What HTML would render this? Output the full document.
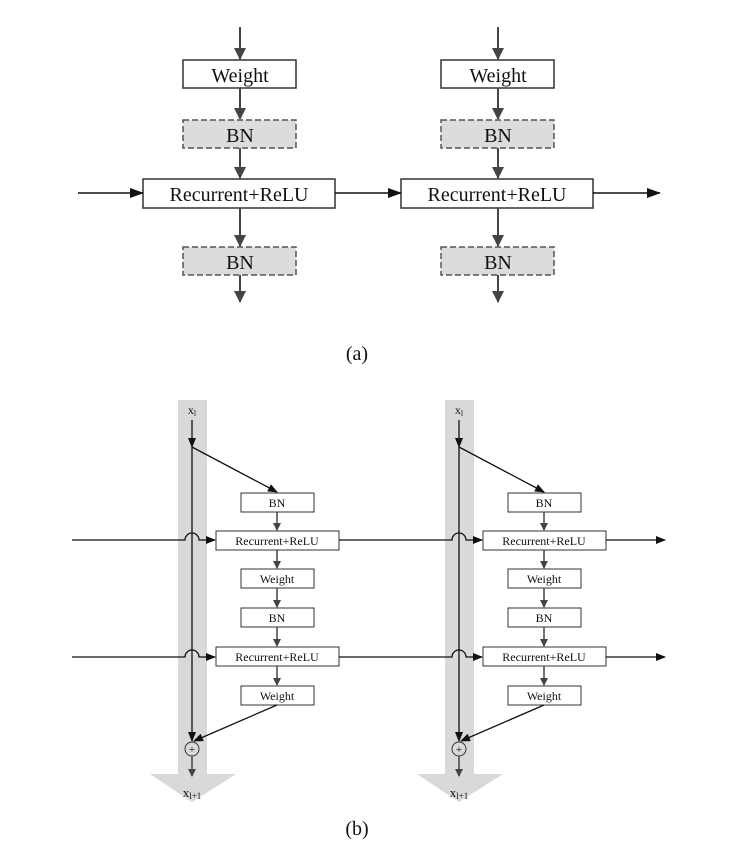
<!DOCTYPE html>
<html><head><meta charset="utf-8"><style>body{margin:0;background:#fff}svg{display:block}text{font-family:"Liberation Serif",serif;fill:#111}</style></head>
<body>
<svg width="755" height="862" viewBox="0 0 755 862" xmlns="http://www.w3.org/2000/svg">
<defs>
<marker id="ga" markerWidth="12" markerHeight="12" refX="11" refY="6" orient="auto" markerUnits="userSpaceOnUse"><path d="M0,0 L12,6 L0,12 z" fill="#444"/></marker>
<marker id="ka" markerWidth="14" markerHeight="10" refX="13" refY="5" orient="auto" markerUnits="userSpaceOnUse"><path d="M0,0 L14,5 L0,10 z" fill="#111"/></marker>
<marker id="sa" markerWidth="10" markerHeight="8" refX="9" refY="4" orient="auto" markerUnits="userSpaceOnUse"><path d="M0,0 L10,4 L0,8 z" fill="#111"/></marker>
<marker id="sg" markerWidth="8" markerHeight="8" refX="7" refY="4" orient="auto" markerUnits="userSpaceOnUse"><path d="M0,0 L8,4 L0,8 z" fill="#444"/></marker>
</defs>
<!-- (a) -->
<g id="acol">
<line x1="240" y1="27" x2="240" y2="59" stroke="#444" stroke-width="2" marker-end="url(#ga)"/>
<rect x="183" y="60" width="113" height="28" fill="#fff" stroke="#333" stroke-width="1.5"/>
<text x="240" y="82" font-size="20" text-anchor="middle">Weight</text>
<line x1="240" y1="88" x2="240" y2="119" stroke="#444" stroke-width="2" marker-end="url(#ga)"/>
<rect x="183" y="120" width="113" height="28" fill="#dcdcdc" stroke="#555" stroke-width="1.5" stroke-dasharray="6,3"/>
<text x="240" y="142" font-size="20" text-anchor="middle">BN</text>
<line x1="240" y1="148" x2="240" y2="178" stroke="#444" stroke-width="2" marker-end="url(#ga)"/>
<rect x="143" y="179" width="192" height="29" fill="#fff" stroke="#333" stroke-width="1.5"/>
<text x="239" y="201" font-size="20" text-anchor="middle">Recurrent+ReLU</text>
<line x1="240" y1="208" x2="240" y2="246" stroke="#444" stroke-width="2" marker-end="url(#ga)"/>
<rect x="183" y="247" width="113" height="28" fill="#dcdcdc" stroke="#555" stroke-width="1.5" stroke-dasharray="6,3"/>
<text x="240" y="269" font-size="20" text-anchor="middle">BN</text>
<line x1="240" y1="275" x2="240" y2="302" stroke="#444" stroke-width="2" marker-end="url(#ga)"/>
</g>
<use href="#acol" transform="translate(258,0)"/>
<line x1="78" y1="193" x2="143" y2="193" stroke="#111" stroke-width="1.5" marker-end="url(#ka)"/>
<line x1="335" y1="193" x2="401" y2="193" stroke="#111" stroke-width="1.5" marker-end="url(#ka)"/>
<line x1="593" y1="193" x2="660" y2="193" stroke="#111" stroke-width="1.5" marker-end="url(#ka)"/>
<text x="357" y="360" font-size="20" text-anchor="middle">(a)</text>
<!-- (b) -->
<g id="bcol">
<path d="M178,400 H207 V774 H236 L192,802 L150,774 H178 Z" fill="#d9d9d9"/>
<text x="192" y="414" font-size="12" text-anchor="middle">x<tspan font-size="8" dy="2">l</tspan></text>
<line x1="192" y1="420" x2="192" y2="447" stroke="#111" stroke-width="1.3" marker-end="url(#sa)"/>
<line x1="192" y1="447" x2="192" y2="741" stroke="#111" stroke-width="1.3" marker-end="url(#sa)"/>
<line x1="192" y1="447" x2="277" y2="492" stroke="#111" stroke-width="1.3" marker-end="url(#sa)"/>
<rect x="241" y="493" width="73" height="19" fill="#fff" stroke="#333"/>
<text x="277" y="507" font-size="12" text-anchor="middle">BN</text>
<line x1="277" y1="512" x2="277" y2="530" stroke="#444" stroke-width="1.5" marker-end="url(#sg)"/>
<rect x="216" y="531" width="123" height="19" fill="#fff" stroke="#333"/>
<text x="277" y="545" font-size="12" text-anchor="middle">Recurrent+ReLU</text>
<line x1="277" y1="550" x2="277" y2="568" stroke="#444" stroke-width="1.5" marker-end="url(#sg)"/>
<rect x="241" y="569" width="73" height="19" fill="#fff" stroke="#333"/>
<text x="277" y="583" font-size="12" text-anchor="middle">Weight</text>
<line x1="277" y1="588" x2="277" y2="607" stroke="#444" stroke-width="1.5" marker-end="url(#sg)"/>
<rect x="241" y="608" width="73" height="19" fill="#fff" stroke="#333"/>
<text x="277" y="622" font-size="12" text-anchor="middle">BN</text>
<line x1="277" y1="627" x2="277" y2="646" stroke="#444" stroke-width="1.5" marker-end="url(#sg)"/>
<rect x="216" y="647" width="123" height="19" fill="#fff" stroke="#333"/>
<text x="277" y="661" font-size="12" text-anchor="middle">Recurrent+ReLU</text>
<line x1="277" y1="666" x2="277" y2="685" stroke="#444" stroke-width="1.5" marker-end="url(#sg)"/>
<rect x="241" y="686" width="73" height="19" fill="#fff" stroke="#333"/>
<text x="277" y="700" font-size="12" text-anchor="middle">Weight</text>
<line x1="277" y1="705" x2="194" y2="741" stroke="#111" stroke-width="1.3" marker-end="url(#sa)"/>
<circle cx="192" cy="749" r="7" fill="none" stroke="#333"/>
<text x="192" y="753" font-size="11" text-anchor="middle">+</text>
<line x1="192" y1="756" x2="192" y2="776" stroke="#444" stroke-width="1.5" marker-end="url(#sg)"/>
<text x="192" y="797" font-size="13" text-anchor="middle">x<tspan font-size="9" dy="2">l+1</tspan></text>
<path d="M184,540 H185 A7,7 0 0 1 199,540 H200" fill="none" stroke="#111" stroke-width="1.3"/>
<line x1="200" y1="540" x2="215" y2="540" stroke="#111" stroke-width="1.3" marker-end="url(#sa)"/>
<path d="M184,657 H185 A7,7 0 0 1 199,657 H200" fill="none" stroke="#111" stroke-width="1.3"/>
<line x1="200" y1="657" x2="215" y2="657" stroke="#111" stroke-width="1.3" marker-end="url(#sa)"/>
</g>
<use href="#bcol" transform="translate(267,0)"/>
<line x1="72" y1="540" x2="184" y2="540" stroke="#111" stroke-width="1.3"/>
<line x1="72" y1="657" x2="184" y2="657" stroke="#111" stroke-width="1.3"/>
<line x1="339" y1="540" x2="451" y2="540" stroke="#111" stroke-width="1.3"/>
<line x1="339" y1="657" x2="451" y2="657" stroke="#111" stroke-width="1.3"/>
<line x1="606" y1="540" x2="665" y2="540" stroke="#111" stroke-width="1.3" marker-end="url(#sa)"/>
<line x1="606" y1="657" x2="665" y2="657" stroke="#111" stroke-width="1.3" marker-end="url(#sa)"/>
<text x="357" y="835" font-size="20" text-anchor="middle">(b)</text>
</svg>
</body></html>
